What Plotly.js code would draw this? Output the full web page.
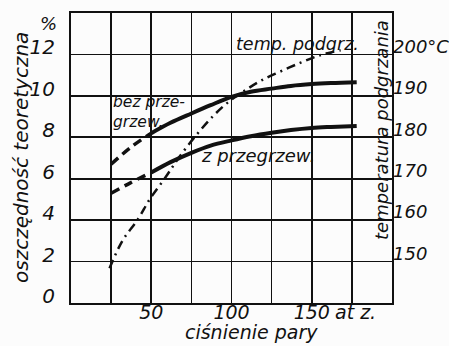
<!DOCTYPE html>
<html>
<head>
<meta charset="utf-8">
<script src="https://cdn.plot.ly/plotly-3.0.1.min.js"></script>
<style>html,body{margin:0;padding:0;background:#fcfcfc;}#chart{width:449px;height:346px;}</style>
</head>
<body>
<div id="chart"></div>
<script>
// pressure (at) and theoretical saving (%)
const pressure = [25, 37, 50, 62, 75, 87, 100, 112, 125, 137, 150, 162, 178];
const savingNoSuperheat = [6.7, 7.5, 8.2, 8.7, 9.15, 9.55, 9.95, 10.2, 10.35, 10.48, 10.57, 10.62, 10.66];
const savingSuperheat = [5.3, 5.8, 6.3, 6.8, 7.25, 7.6, 7.85, 8.05, 8.22, 8.35, 8.45, 8.5, 8.55];
// preheating temperature (°C)
const pressureTemp = [24, 32, 42, 49, 59, 67, 78, 89, 98, 108, 118, 130, 143, 155, 168];
const tempPreheat = [148.4, 155, 160.4, 165, 170.4, 175, 180.5, 185.3, 188.5, 191.2, 193.6, 195.8, 198, 199.8, 201];
const xGrid = [25, 50, 75, 100, 125, 150, 175];
const xTickText = ['', '50', '', '100', '', '150', ''];
const yTicks = [0, 2, 4, 6, 8, 10, 12];
const y2Ticks = [150, 160, 170, 180, 190, 200];
const y2TickText = ['150', '160', '170', '180', '190', '200°C'];
const dashedUntil = 2; // index where the dashed start ends

const L = 71, R = 392, T = 13, B = 303;
const px = v => (v - L) / (R - L);
const py = v => (B - v) / (B - T);
const FONT = 'DejaVu Sans';
const f = (s) => ({family: FONT, size: s, color: '#111', style: 'italic'});
const ann = (text, x, y, size, extra) => Object.assign({text: text, x: px(x), y: py(y), xref: 'paper', yref: 'paper',
  xanchor: 'center', yanchor: 'middle', showarrow: false, font: f(size)}, extra || {});

const ink = '#111';
const traces = [
  {x: pressure.slice(0, dashedUntil + 1), y: savingNoSuperheat.slice(0, dashedUntil + 1), mode: 'lines',
   line: {color: ink, width: 3.5, dash: '9px,6px', shape: 'spline'}},
  {x: pressure.slice(dashedUntil), y: savingNoSuperheat.slice(dashedUntil), mode: 'lines',
   line: {color: ink, width: 4, shape: 'spline'}},
  {x: pressure.slice(0, dashedUntil + 1), y: savingSuperheat.slice(0, dashedUntil + 1), mode: 'lines',
   line: {color: ink, width: 3.5, dash: '9px,6px', shape: 'spline'}},
  {x: pressure.slice(dashedUntil), y: savingSuperheat.slice(dashedUntil), mode: 'lines',
   line: {color: ink, width: 4, shape: 'spline'}},
  {x: pressureTemp, y: tempPreheat, yaxis: 'y2', mode: 'lines',
   line: {color: ink, width: 2.5, dash: '9px,5px,2px,5px', shape: 'spline'}}
];

const layout = {
  width: 449, height: 346,
  margin: {l: L, r: 449 - R, t: T, b: 346 - B},
  paper_bgcolor: '#fcfcfc', plot_bgcolor: '#fcfcfc',
  showlegend: false,
  font: f(18),
  xaxis: {range: [0, 200], tickvals: xGrid, ticktext: xTickText, showgrid: true, gridcolor: ink, gridwidth: 1.6,
    showline: true, mirror: true, linecolor: ink, linewidth: 2, zeroline: false, ticks: '', ticklen: 0,
    tickfont: f(19), ticklabelstandoff: -9},
  yaxis: {range: [0, 14], tickvals: yTicks, showgrid: true, gridcolor: ink, gridwidth: 1.6,
    showline: true, mirror: true, linecolor: ink, linewidth: 2, zeroline: false, ticks: '', ticklen: 0,
    tickfont: f(20), ticklabelstandoff: 10, ticklabelshift: -7},
  yaxis2: {range: [140, 210], overlaying: 'y', side: 'right', tickvals: y2Ticks, ticktext: y2TickText,
    showgrid: false, zeroline: false, showline: false, ticks: '', ticklen: 0, tickfont: f(18),
    ticklabelstandoff: 0, ticklabelshift: -8},
  annotations: [
    ann('%', 48, 24, 18),
    ann('at z.', 333, 312, 19, {xanchor: 'left'}),
    ann('ciśnienie pary', 252, 332, 19),
    ann('oszczędność teoretyczna', 21, 158, 20, {textangle: -90}),
    ann('temperatura podgrzania', 381, 130, 18, {textangle: -90}),
    ann('temp. podgrz.', 297, 44, 17.5),
    ann('bez prze-<br>grzew.', 111, 112, 15.5, {xanchor: 'left', align: 'left'}),
    ann('z przegrzew.', 258, 155, 18)
  ]
};
Plotly.newPlot('chart', traces, layout, {displayModeBar: false, staticPlot: true});
</script>
</body>
</html>
